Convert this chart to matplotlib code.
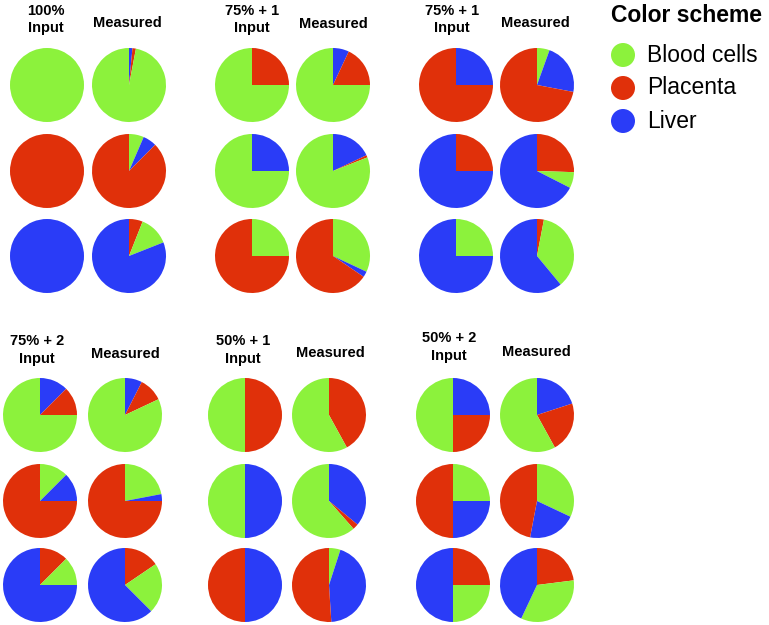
import matplotlib
matplotlib.use('Agg')
import matplotlib.pyplot as plt
from matplotlib.patches import Circle

plt.rcParams['font.family'] = ['Liberation Sans', 'DejaVu Sans']

tissues = ['Blood cells', 'Placenta', 'Liver']
colors = ['#8cf23c', '#e0300a', '#2a3cf7']

panel_titles = ['100%\nInput', '75% + 1\nInput', '75% + 1\nInput',
                '75% + 2\nInput', '50% + 1\nInput', '50% + 2\nInput']

# shares in percent: (blood cells, placenta, liver), one row per pie row
input_shares = [
    [[100, 0, 0], [0, 100, 0], [0, 0, 100]],
    [[75, 25, 0], [75, 0, 25], [25, 75, 0]],
    [[0, 75, 25], [0, 25, 75], [25, 0, 75]],
    [[75, 12.5, 12.5], [12.5, 75, 12.5], [12.5, 12.5, 75]],
    [[50, 50, 0], [50, 0, 50], [0, 50, 50]],
    [[50, 25, 25], [25, 50, 25], [25, 25, 50]],
]
measured_shares = [
    [[97, 1.5, 1.5], [6.5, 87.5, 6], [13, 6, 81]],
    [[75, 18, 7], [81, 1, 18], [32, 65.5, 2.5]],
    [[5.5, 72, 22.5], [7, 25.5, 67.5], [36, 3, 61]],
    [[82, 10.5, 7.5], [22, 75, 3], [22, 15.5, 62.5]],
    [[58, 42, 0], [61.5, 2.5, 36], [5, 51, 44]],
    [[58, 22, 20], [32, 47, 21], [34, 23, 43]],
]
# tissue whose wedge starts at 12 o'clock (0 blood, 1 placenta, 2 liver)
first_tissue = [
    [2, 0, 1],
    [2, 2, 0],
    [0, 1, 1],
    [2, 0, 1],
    [2, 2, 0],
    [2, 0, 1],
]

W, H = 769, 625
fig = plt.figure(figsize=(W / 100, H / 100), dpi=100)
ax = fig.add_axes([0, 0, 1, 1])

# layout in pixels (from top-left)
input_x = [47, 252, 456, 40, 245, 453]
meas_x = [129, 333, 537, 125, 329, 537]
rows_y = [[85, 171, 256]] * 3 + [[415, 501, 585]] * 3
title_x = [46, 252, 452, 37, 243, 449]
title_y = [19.5, 19.5, 19.5, 350, 350, 347]
meas_title_x = [127, 333, 535, 125, 330, 536]
meas_title_y = [23, 24, 23, 354, 353, 352]
R = 37


def draw_pie(shares, first, cx, cy):
    order = [first, (first - 1) % 3, (first - 2) % 3]
    vals = [shares[i] for i in order]
    cols = [colors[i] for i in order]
    ax.pie(vals, colors=cols, startangle=90, counterclock=False,
           center=(cx, H - cy), radius=R,
           wedgeprops=dict(linewidth=0))


for p in range(6):
    for r in range(3):
        draw_pie(input_shares[p][r], first_tissue[p][r], input_x[p], rows_y[p][r])
        draw_pie(measured_shares[p][r], first_tissue[p][r], meas_x[p], rows_y[p][r])
    ax.text(title_x[p], H - title_y[p], panel_titles[p], ha='center', va='center',
            fontsize=10.5, fontweight='bold', linespacing=1.3)
    ax.text(meas_title_x[p], H - meas_title_y[p], 'Measured', ha='center',
            va='center', fontsize=10.5, fontweight='bold')

# color scheme legend
ax.text(611, H - 16, 'Color scheme', ha='left', va='center',
        fontsize=16.5, fontweight='bold')
legend_y = [55, 88, 121]
for i, name in enumerate(tissues):
    ax.add_patch(Circle((623, H - legend_y[i]), 12, color=colors[i], lw=0))
    ax.text(647, H - legend_y[i], name, ha='left', va='center', fontsize=16.5)

ax.set_xlim(0, W)
ax.set_ylim(0, H)
ax.set_aspect('equal')
ax.axis('off')

fig.savefig('out.png', dpi=100)
